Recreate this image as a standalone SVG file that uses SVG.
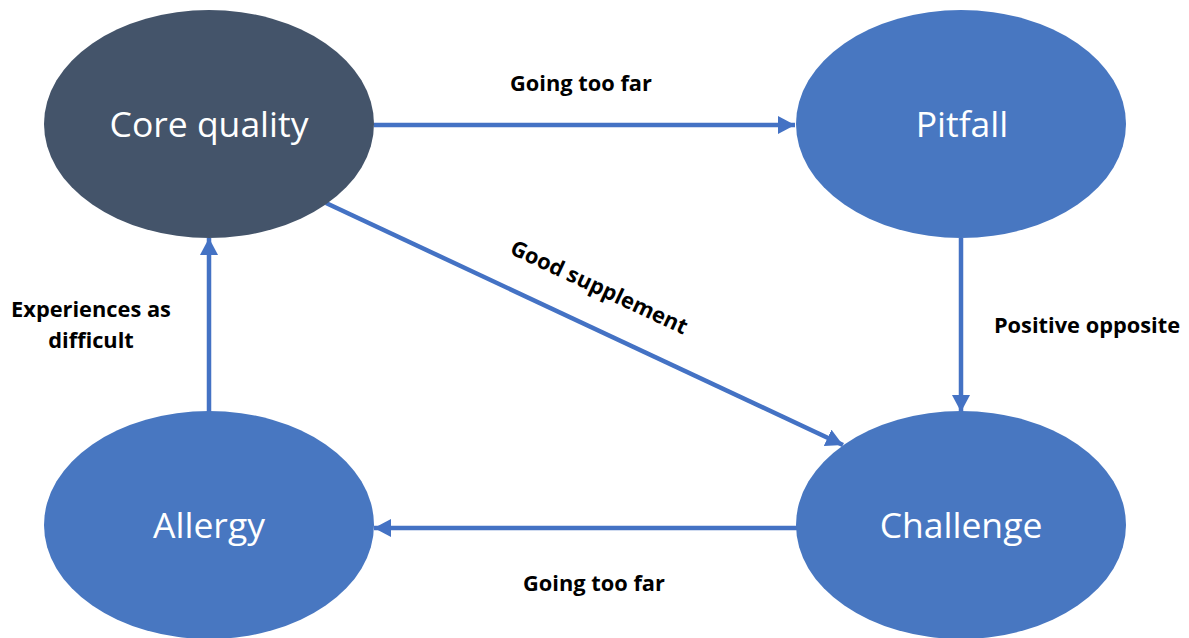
<svg xmlns="http://www.w3.org/2000/svg" width="1189" height="638" viewBox="0 0 1189 638">
  <style>
    .node-dark { fill: #44546A; }
    .node { fill: #4877C1; }
    .node-label { font-family: "Open Sans", "Noto Sans", sans-serif; font-size: 35.5px; fill: #FFFFFF; text-anchor: middle; }
    .edge { stroke: #4472C4; stroke-width: 4.5; fill: none; marker-end: url(#arrow); }
    .edge-label { font-family: "Open Sans", "Noto Sans", sans-serif; font-size: 21.8px; font-weight: bold; fill: #000000; text-anchor: middle; }
  </style>
  <defs>
    <marker id="arrow" markerUnits="userSpaceOnUse" markerWidth="18" markerHeight="18" viewBox="0 0 18 18" refX="17" refY="9" orient="auto">
      <path d="M0,0 L17,9 L0,18 Z" fill="#4472C4"/>
    </marker>
  </defs>
  <rect width="1189" height="638" fill="#FFFFFF"/>

  <g id="connectors">
    <line class="edge" x1="374" y1="125" x2="795" y2="125"/>
    <line class="edge" x1="961" y1="238" x2="961" y2="412"/>
    <line class="edge" x1="797" y1="528" x2="374" y2="528"/>
    <line class="edge" x1="209" y1="413" x2="209" y2="238"/>
    <line class="edge" x1="326" y1="203" x2="843" y2="445"/>
  </g>

  <g id="core-quality">
    <ellipse class="node-dark" cx="209" cy="124" rx="165" ry="114"/>
    <text class="node-label" x="209" y="137">Core quality</text>
  </g>
  <g id="pitfall">
    <ellipse class="node" cx="961" cy="124" rx="165" ry="114"/>
    <text class="node-label" x="962" y="137">Pitfall</text>
  </g>
  <g id="challenge">
    <ellipse class="node" cx="961" cy="525" rx="165" ry="114"/>
    <text class="node-label" x="961" y="538">Challenge</text>
  </g>
  <g id="allergy">
    <ellipse class="node" cx="209" cy="525" rx="165" ry="114"/>
    <text class="node-label" x="209" y="538">Allergy</text>
  </g>

  <g id="labels">
    <text class="edge-label" x="581" y="91">Going too far</text>
    <text class="edge-label" x="1087" y="333">Positive opposite</text>
    <text class="edge-label" x="594" y="591">Going too far</text>
    <text class="edge-label" x="91" y="317">Experiences as</text>
    <text class="edge-label" x="91" y="348">difficult</text>
    <text class="edge-label" x="596" y="294" transform="rotate(25 596 294)">Good supplement</text>
  </g>
</svg>
